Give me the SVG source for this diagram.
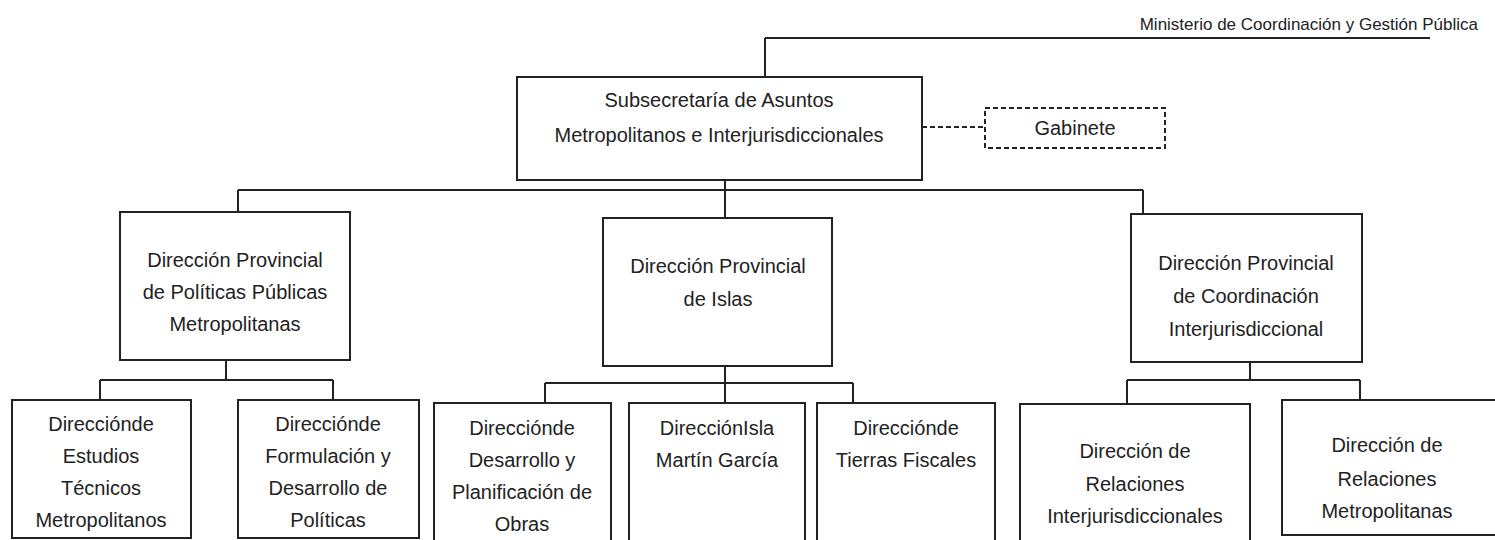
<svg xmlns="http://www.w3.org/2000/svg" width="1495" height="540" viewBox="0 0 1495 540">
<style>
.box{fill:#fff;stroke:#222;stroke-width:2}
.dash{fill:#fff;stroke:#222;stroke-width:2;stroke-dasharray:5,3}
.ln{fill:none;stroke:#222;stroke-width:2}
.dl{fill:none;stroke:#222;stroke-width:2;stroke-dasharray:5,3}
text{font-family:"Liberation Sans",Arial,sans-serif;font-size:20px;fill:#222;text-anchor:middle}
.sm{font-size:17px}
</style>
<rect width="1495" height="540" fill="#fff"/>
<g id="connectors">
<path class="ln" d="M765,38 H1430 M765,38 V77"/>
<path class="dl" d="M922,127 H985"/>
<path class="ln" d="M725,180 V190 M238,190 H1143 M238,190 V212 M725,190 V218 M1143,190 V214"/>
<path class="ln" d="M226,360 V380 M100,380 H333 M100,380 V400 M333,380 V400"/>
<path class="ln" d="M725,366 V383 M545,383 H853 M545,383 V403 M725,383 V403 M853,383 V403"/>
<path class="ln" d="M1250,362 V380 M1127,380 H1360 M1127,380 V404 M1360,380 V400"/>
</g>
<g id="ministerio"><text class="sm" x="1478" y="30" style="text-anchor:end">Ministerio de Coordinación y Gestión Pública</text></g>
<g id="subsecretaria"><rect class="box" x="517" y="77" width="405" height="103"/>
<text x="719" y="107">Subsecretaría de Asuntos</text><text x="719" y="142">Metropolitanos e Interjurisdiccionales</text></g>
<g id="gabinete"><rect class="dash" x="985" y="108" width="180" height="40"/><text x="1075" y="135">Gabinete</text></g>
<g id="dp-politicas"><rect class="box" x="120" y="212" width="230" height="148"/>
<text x="235" y="267">Dirección Provincial</text><text x="235" y="299">de Políticas Públicas</text><text x="235" y="331">Metropolitanas</text></g>
<g id="dp-islas"><rect class="box" x="603" y="218" width="229" height="148"/>
<text x="718" y="273">Dirección Provincial</text><text x="718" y="306">de Islas</text></g>
<g id="dp-coordinacion"><rect class="box" x="1131" y="214" width="231" height="148"/>
<text x="1246" y="270">Dirección Provincial</text><text x="1246" y="303">de Coordinación</text><text x="1246" y="336">Interjurisdiccional</text></g>
<g id="d-estudios"><rect class="box" x="12" y="400" width="179" height="138"/>
<text x="101" y="431">Direcciónde</text><text x="101" y="463">Estudios</text><text x="101" y="495">Técnicos</text><text x="101" y="527">Metropolitanos</text></g>
<g id="d-formulacion"><rect class="box" x="238" y="400" width="181" height="138"/>
<text x="328" y="431">Direcciónde</text><text x="328" y="463">Formulación y</text><text x="328" y="495">Desarrollo de</text><text x="328" y="527">Políticas</text></g>
<g id="d-desarrollo"><rect class="box" x="434" y="403" width="177" height="142"/>
<text x="522" y="435">Direcciónde</text><text x="522" y="467">Desarrollo y</text><text x="522" y="499">Planificación de</text><text x="522" y="531">Obras</text></g>
<g id="d-isla"><rect class="box" x="629" y="403" width="176" height="142"/>
<text x="717" y="435">DirecciónIsla</text><text x="717" y="467">Martín García</text></g>
<g id="d-tierras"><rect class="box" x="817" y="403" width="178" height="142"/>
<text x="906" y="435">Direcciónde</text><text x="906" y="467">Tierras Fiscales</text></g>
<g id="d-rel-inter"><rect class="box" x="1020" y="404" width="230" height="141"/>
<text x="1135" y="458">Dirección de</text><text x="1135" y="491">Relaciones</text><text x="1135" y="523">Interjurisdiccionales</text></g>
<g id="d-rel-metro"><rect class="box" x="1282" y="400" width="220" height="135"/>
<text x="1387" y="452">Dirección de</text><text x="1387" y="486">Relaciones</text><text x="1387" y="518">Metropolitanas</text></g>
</svg>
